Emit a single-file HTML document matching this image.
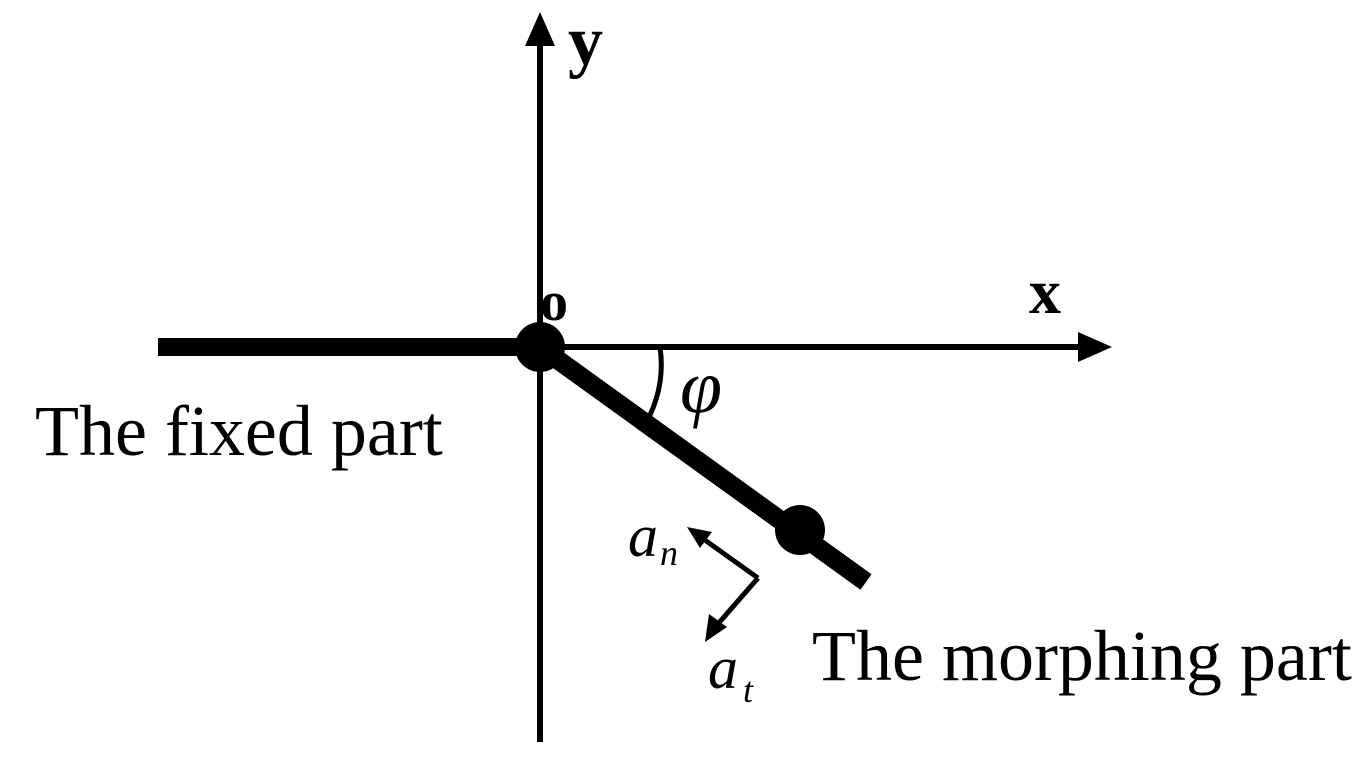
<!DOCTYPE html>
<html><head><style>body{margin:0;background:#fff}svg{display:block}</style></head><body>
<svg width="1364" height="780" viewBox="0 0 1364 780" xmlns="http://www.w3.org/2000/svg" font-family="Liberation Serif, serif">
<rect width="1364" height="780" fill="#fff"/>
<line x1="540" y1="742" x2="540" y2="40" stroke="#000" stroke-width="6"/>
<polygon points="540,12 525,46 555,46" fill="#000"/>
<line x1="540" y1="347" x2="1085" y2="347" stroke="#000" stroke-width="6"/>
<polygon points="1112,347 1078,332 1078,362" fill="#000"/>
<line x1="158" y1="347" x2="540" y2="347" stroke="#000" stroke-width="18"/>
<line x1="540" y1="347" x2="866" y2="582" stroke="#000" stroke-width="19"/>
<circle cx="540" cy="347" r="25" fill="#000"/>
<circle cx="800" cy="530" r="25" fill="#000"/>
<path d="M 660 347 A 120 120 0 0 1 650 415" fill="none" stroke="#000" stroke-width="5"/>
<line x1="758" y1="578" x2="702" y2="538" stroke="#000" stroke-width="5"/>
<polygon points="687,527 712,532 700,548" fill="#000"/>
<line x1="758" y1="578" x2="717" y2="625" stroke="#000" stroke-width="5"/>
<polygon points="705,642 709,614 727,627" fill="#000"/>
<text x="568" y="64" font-size="70" font-weight="bold">y</text>
<text x="540" y="320" font-size="56" font-weight="bold">o</text>
<text x="1029" y="313" font-size="64" font-weight="bold">x</text>
<text x="680" y="412" font-size="76" font-style="italic">φ</text>
<text x="35" y="455" font-size="72">The fixed part</text>
<text x="812" y="680" font-size="72">The morphing part</text>
<text x="628" y="556" font-size="60" font-style="italic">a</text>
<text x="660" y="565" font-size="36" font-style="italic">n</text>
<text x="708" y="688" font-size="60" font-style="italic">a</text>
<text x="743" y="702" font-size="36" font-style="italic">t</text>
</svg>
</body></html>
